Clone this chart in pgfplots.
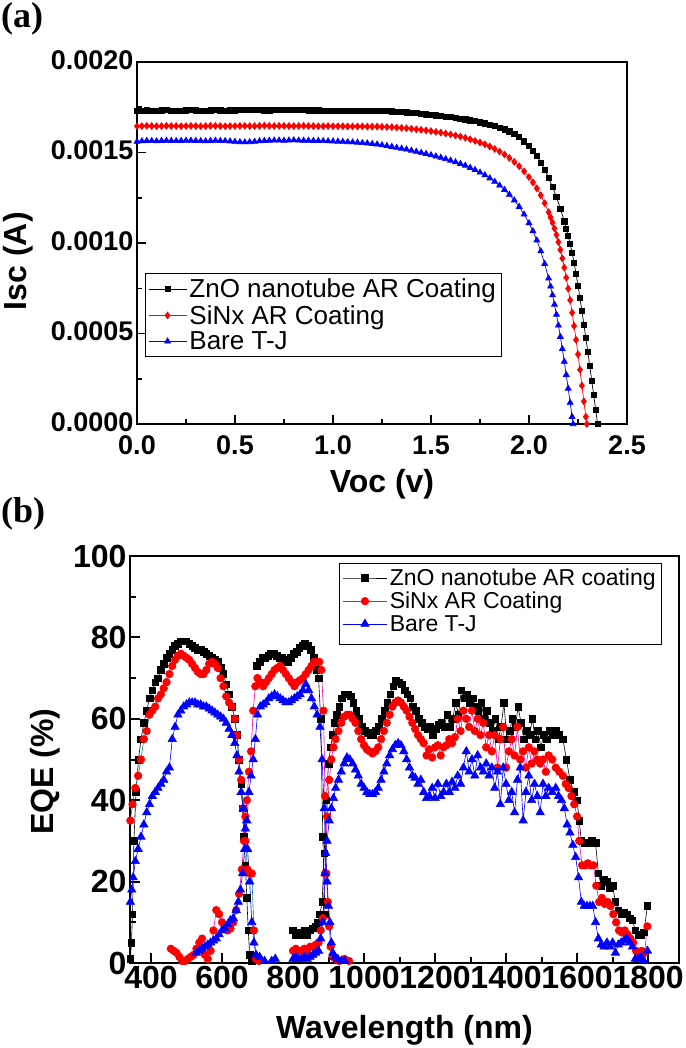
\documentclass[border=0pt]{standalone}
\usepackage{fontspec}
\setmainfont{Liberation Sans}
\newfontfamily\serifbf{Liberation Serif}
\usepackage{pgfplots}
\pgfplotsset{compat=1.18}
\definecolor{myred}{RGB}{255,0,0}
\definecolor{myblue}{RGB}{0,0,255}
\definecolor{myteal}{RGB}{0,128,128}
\definecolor{mymag}{RGB}{235,0,170}
\begin{document}
\begin{tikzpicture}
\useasboundingbox (0pt,0pt) rectangle (685pt,-1048pt);
\node[anchor=north west,inner sep=0pt,font=\serifbf\bfseries\fontsize{36}{38}\selectfont] at (1pt,-2pt) {(a)};
\node[anchor=north west,inner sep=0pt,font=\serifbf\bfseries\fontsize{36}{38}\selectfont] at (1pt,-497pt) {(b)};
% ---------------- panel (a)
\begin{axis}[
 at={(137pt,-424pt)}, anchor=south west, scale only axis,
 width=490pt, height=362pt,
 xmin=0, xmax=2.5, ymin=0, ymax=0.002,
 xtick={0,0.5,1,1.5,2,2.5}, xticklabels={0.0,0.5,1.0,1.5,2.0,2.5},
 ytick={0,0.0005,0.001,0.0015,0.002}, yticklabels={0.0000,0.0005,0.0010,0.0015,0.0020},
 scaled y ticks=false, scaled x ticks=false,
 minor x tick num=1, minor y tick num=1,
 tick align=inside, xtick pos=left, ytick pos=left,
 major tick length=9pt, minor tick length=5pt,
 axis line style={line width=1.6pt}, every tick/.style={line width=1.5pt,black},
 ticklabel style={font=\bfseries\fontsize{27}{29}\selectfont},
 xticklabel style={yshift=-8pt},
 yticklabel style={yshift=2pt},
 xlabel={Voc (v)}, ylabel={Isc (A)},
 label style={font=\bfseries\fontsize{32}{34}\selectfont},
 xlabel style={at={(axis description cs:0.5,-0.165)},anchor=center},
 ylabel style={at={(axis description cs:-0.243,0.45)},anchor=center,rotate=0},
 legend cell align=left,
 legend image code/.code={\draw[mark repeat=2,mark phase=2,#1] plot coordinates {(0pt,0pt) (19pt,0pt) (38pt,0pt)};},
 legend style={at={(0.016,0.417)},anchor=north west,draw=black,line width=0.8pt,
   font=\fontsize{26}{28}\selectfont, nodes={inner sep=2.5pt}, row sep=1pt, inner xsep=3pt, inner ysep=3pt},
]
\addplot[black,line width=0.7pt,mark=square*,mark size=2.6pt,mark options={solid}] coordinates {
(0.000,0.001730) (0.025,0.001732) (0.050,0.001733) (0.075,0.001731) (0.100,0.001732) (0.125,0.001733) (0.150,0.001734) (0.175,0.001732) (0.200,0.001732) (0.225,0.001731) (0.250,0.001733) (0.275,0.001734) (0.300,0.001733) (0.325,0.001732) (0.350,0.001732) (0.375,0.001733) (0.400,0.001734) (0.425,0.001733) (0.450,0.001732) (0.475,0.001733) (0.500,0.001733) (0.525,0.001734) (0.550,0.001735) (0.575,0.001736) (0.600,0.001737) (0.625,0.001735) (0.650,0.001733) (0.675,0.001733) (0.700,0.001734) (0.725,0.001734) (0.750,0.001735) (0.775,0.001736) (0.800,0.001737) (0.825,0.001735) (0.850,0.001734) (0.875,0.001733) (0.900,0.001733) (0.925,0.001733) (0.950,0.001732) (0.975,0.001732) (1.000,0.001732) (1.025,0.001731) (1.050,0.001731) (1.075,0.001731) (1.100,0.001731) (1.125,0.001731) (1.150,0.001731) (1.175,0.001730) (1.200,0.001730) (1.225,0.001729)
(1.25,0.001729) (1.275,0.001728) (1.30,0.001727) (1.325,0.001726) (1.35,0.001724) (1.375,0.001722) (1.40,0.001719) (1.425,0.001717) (1.45,0.001714) (1.475,0.001711) (1.50,0.001708) (1.525,0.001705) (1.55,0.001702) (1.575,0.001699) (1.60,0.001695) (1.625,0.001691) (1.65,0.001687) (1.675,0.001683) (1.70,0.001678) (1.725,0.001673) (1.75,0.001667) (1.775,0.001661) (1.80,0.001654) (1.825,0.001646) (1.85,0.001638) (1.875,0.001628) (1.90,0.001617) (1.925,0.001603) (1.95,0.001585) (1.975,0.001562) (2.00,0.001535) (2.02,0.001510) (2.04,0.001480) (2.06,0.001445) (2.08,0.001405) (2.10,0.001360) (2.12,0.001310) (2.14,0.001255) (2.16,0.001190) (2.18,0.001120) (2.19,0.001080) (2.20,0.001040) (2.21,0.000995) (2.22,0.000945) (2.23,0.000890) (2.24,0.000830) (2.25,0.000765) (2.26,0.000695) (2.27,0.000625) (2.28,0.000550) (2.29,0.000475) (2.30,0.000400) (2.31,0.000320) (2.32,0.000240) (2.33,0.000160) (2.34,0.000080) (2.35,0.000000)};
\addlegendentry{ZnO nanotube AR Coating}
\addplot[myred,line width=0.7pt,mark=diamond*,mark size=3.4pt,mark options={solid}] coordinates {
(0.000,0.001645) (0.025,0.001646) (0.050,0.001647) (0.075,0.001646) (0.100,0.001645) (0.125,0.001646) (0.150,0.001647) (0.175,0.001646) (0.200,0.001646) (0.225,0.001645) (0.250,0.001646) (0.275,0.001647) (0.300,0.001646) (0.325,0.001645) (0.350,0.001646) (0.375,0.001647) (0.400,0.001647) (0.425,0.001646) (0.450,0.001645) (0.475,0.001646) (0.500,0.001646) (0.525,0.001647) (0.550,0.001647) (0.575,0.001646) (0.600,0.001646) (0.625,0.001647) (0.650,0.001648) (0.675,0.001647) (0.700,0.001646) (0.725,0.001647) (0.750,0.001647) (0.775,0.001646) (0.800,0.001646) (0.825,0.001646) (0.850,0.001647) (0.875,0.001646) (0.900,0.001646) (0.925,0.001645) (0.950,0.001645) (0.975,0.001646) (1.000,0.001645) (1.025,0.001645) (1.050,0.001645) (1.075,0.001644) (1.100,0.001644) (1.125,0.001644) (1.150,0.001644) (1.175,0.001643) (1.200,0.001643) (1.225,0.001643)
(1.25,0.001642) (1.275,0.001641) (1.30,0.001640) (1.325,0.001638) (1.35,0.001636) (1.375,0.001634) (1.40,0.001631) (1.425,0.001628) (1.45,0.001625) (1.475,0.001622) (1.50,0.001618) (1.525,0.001614) (1.55,0.001610) (1.575,0.001605) (1.60,0.001600) (1.625,0.001594) (1.65,0.001588) (1.675,0.001581) (1.70,0.001573) (1.725,0.001564) (1.75,0.001555) (1.775,0.001545) (1.80,0.001533) (1.825,0.001520) (1.85,0.001505) (1.875,0.001489) (1.90,0.001470) (1.925,0.001448) (1.95,0.001424) (1.975,0.001396) (2.00,0.001364) (2.02,0.001335) (2.04,0.001302) (2.06,0.001264) (2.08,0.001220) (2.10,0.001170) (2.11,0.001142) (2.12,0.001112) (2.13,0.001080) (2.14,0.001045) (2.15,0.001005) (2.16,0.000962) (2.17,0.000915) (2.18,0.000864) (2.19,0.000808) (2.20,0.000748) (2.21,0.000684) (2.22,0.000615) (2.23,0.000542) (2.24,0.000465) (2.25,0.000385) (2.26,0.000300) (2.27,0.000212) (2.28,0.000125) (2.29,0.000040) (2.295,0.000000)};
\addlegendentry{SiNx AR Coating}
\addplot[myblue,line width=0.7pt,mark=triangle*,mark size=3.4pt,mark options={solid}] coordinates {
(0.000,0.001560) (0.025,0.001563) (0.050,0.001565) (0.075,0.001564) (0.100,0.001563) (0.125,0.001565) (0.150,0.001566) (0.175,0.001565) (0.200,0.001564) (0.225,0.001565) (0.250,0.001566) (0.275,0.001566) (0.300,0.001565) (0.325,0.001564) (0.350,0.001563) (0.375,0.001565) (0.400,0.001566) (0.425,0.001565) (0.450,0.001564) (0.475,0.001562) (0.500,0.001560) (0.525,0.001558) (0.550,0.001557) (0.575,0.001558) (0.600,0.001560) (0.625,0.001563) (0.650,0.001565) (0.675,0.001566) (0.700,0.001567) (0.725,0.001567) (0.750,0.001566) (0.775,0.001567) (0.800,0.001568) (0.825,0.001567) (0.850,0.001566) (0.875,0.001566) (0.900,0.001565) (0.925,0.001565) (0.950,0.001564) (0.975,0.001563) (1.000,0.001562) (1.025,0.001561) (1.050,0.001560) (1.075,0.001558) (1.100,0.001557) (1.125,0.001555) (1.150,0.001553) (1.175,0.001551) (1.200,0.001548) (1.225,0.001545)
(1.25,0.001541) (1.275,0.001537) (1.30,0.001532) (1.325,0.001527) (1.35,0.001522) (1.375,0.001517) (1.40,0.001511) (1.425,0.001505) (1.45,0.001499) (1.475,0.001493) (1.50,0.001486) (1.525,0.001479) (1.55,0.001472) (1.575,0.001464) (1.60,0.001456) (1.625,0.001447) (1.65,0.001438) (1.675,0.001428) (1.70,0.001416) (1.725,0.001404) (1.75,0.001390) (1.775,0.001375) (1.80,0.001358) (1.825,0.001339) (1.85,0.001318) (1.875,0.001294) (1.90,0.001267) (1.925,0.001236) (1.95,0.001200) (1.975,0.001158) (2.00,0.001110) (2.02,0.001066) (2.04,0.001015) (2.06,0.000955) (2.08,0.000885) (2.10,0.000805) (2.11,0.000760) (2.12,0.000712) (2.13,0.000660) (2.14,0.000605) (2.15,0.000545) (2.16,0.000482) (2.17,0.000415) (2.18,0.000345) (2.19,0.000272) (2.20,0.000196) (2.21,0.000118) (2.22,0.000040) (2.225,0.000000)};
\addlegendentry{Bare T-J}
\end{axis}
% ---------------- panel (b)
\begin{axis}[
 at={(130pt,-963pt)}, anchor=south west, scale only axis,
 width=549pt, height=407pt,
 xmin=341, xmax=1887, ymin=0, ymax=100,
 xtick={400,600,800,1000,1200,1400,1600,1800},
 xticklabels={400,600,800,1000,1200,1400,1600,1800},
 ytick={0,20,40,60,80,100}, yticklabels={0,20,40,60,80,100},
 minor x tick num=1, minor y tick num=1,
 tick align=inside, xtick pos=left, ytick pos=left,
 major tick length=10pt, minor tick length=6pt,
 axis line style={line width=2.4pt}, every tick/.style={line width=2pt,black},
 ticklabel style={font=\bfseries\fontsize{32}{34}\selectfont},
 xticklabel style={inner xsep=0pt},
 xlabel={Wavelength (nm)}, ylabel={EQE (\%)},
 label style={font=\bfseries\fontsize{32}{34}\selectfont},
 xlabel style={at={(axis description cs:0.5,-0.165)},anchor=center},
 ylabel style={at={(axis description cs:-0.155,0.47)},anchor=center,rotate=0},
 legend cell align=left,
 legend image code/.code={\draw[mark repeat=2,mark phase=2,#1] plot coordinates {(0pt,0pt) (22pt,0pt) (44pt,0pt)};},
 legend style={at={(0.381,0.983)},anchor=north west,draw=black,line width=1pt,
   font=\fontsize{23}{25}\selectfont, nodes={inner sep=2.5pt}, row sep=0pt, inner xsep=3pt, inner ysep=3pt},
 zno/.style={black,line width=0.6pt,mark=square*,mark size=3.3pt,mark options={solid,black}},
 sin/.style={myteal,line width=0.6pt,mark=*,mark size=3.8pt,mark options={solid,fill=myred,draw=myred}},
 sinm/.style={mymag,line width=0.6pt,mark=*,mark size=3.8pt,mark options={solid,fill=myred,draw=myred}},
 bar/.style={myblue,line width=0.6pt,mark=triangle*,mark size=4.8pt,mark options={solid,fill=myblue,draw=myblue}},
]
% ZnO top cell
\addplot[zno] table {
342 1
345 5
348 12
352 30
358 42
365 50
372 55
380 59
388 62
396 65
404 67
412 69
420 70
428 72
436 73.5
444 75
452 76
460 77
468 78
476 78.5
484 79
492 79
500 79
508 78.5
516 78
524 77.5
532 77
540 77
548 76.5
556 76
564 75.5
572 75
580 74.5
588 74
596 72.5
604 71
612 68.5
620 66
628 63
636 60
642 56
648 50
654 44
658 38
662 31
666 24
670 16
674 8
678 2
684 0.5
};
\addlegendentry{ZnO nanotube AR coating}
\addplot[sin] table {
342 35
348 39
356 43
364 46
372 50
380 55
388 57
396 61
404 62
412 63
420 65
428 66
436 67.5
444 69
452 71
460 73
468 74.5
476 75.5
484 76
492 75.5
500 75
508 74.5
516 73.5
524 72.5
532 71.5
540 71
548 71
556 72
564 73.5
572 74
580 73.5
588 72.5
596 70
604 68
612 65.5
620 64
628 63
636 60
642 56
648 50
654 45
660 38
666 30
672 23
678 22
684 22
690 8
696 1
704 0.5
};
\addlegendentry{SiNx AR Coating}
\addplot[bar] table {
342 15
346 18
350 21
356 25
364 28
372 31
380 34
388 37
396 39
404 41
412 42
420 43
428 44
436 45
444 47
452 48
460 55
468 58
476 61
484 62
492 63
500 63.5
508 64
516 64
524 64
532 63.5
540 63.5
548 63
556 63
564 62.5
572 62
580 61.5
588 61
596 60.5
604 60
612 59
620 57.5
628 56
636 54
642 51
648 47
654 42
660 38
666 33
672 28
678 20
684 10
690 5
696 2
706 1.5
720 0.5
740 0.5
750 1
};
\addlegendentry{Bare T-J}
\addlegendimage{empty legend}\addlegendentry{}
% ZnO middle and bottom
\addplot[zno,forget plot] table {
698 73
706 74
714 75
722 75
730 75.5
738 76
746 76
754 75.5
762 75
770 75
778 74.5
786 74
794 75
802 76
810 76.5
818 77.5
826 78
834 78.5
842 78
850 77
858 75
866 72
872 70
878 60
884 31
890 12
};
\addplot[zno,forget plot] table {
800 8
808 7
816 7.5
824 7
832 8
840 7
848 8
856 8.5
864 9
870 10
876 12
882 15
888 27
894 40
900 49
906 53
912 56
918 59
924 61
930 63
938 65
946 66
954 66
962 65.5
970 64
978 62
986 60
994 58
1002 57
1010 56.5
1018 56
1026 56
1034 57
1042 58
1050 60
1058 62
1066 64
1074 66
1082 68
1090 69.5
1098 69
1106 68.5
1114 67
1122 66
1130 65
1138 63
1146 62
1154 60
1162 59
1170 58
1178 57.5
1186 58
1194 56
1202 57.5
1210 58.5
1218 59
1226 58
1234 61
1242 58
1250 60
1258 64
1266 61
1274 67
1282 65
1290 66
1298 64
1306 65
1314 63
1322 62
1330 64
1338 60
1346 62
1354 59
1362 57
1370 60
1378 55
1386 58
1394 64
1402 55
1410 57
1418 60
1426 58
1434 63
1442 59
1450 55
1458 57
1466 56
1474 60
1482 55
1490 57
1498 53
1506 56
1514 55
1522 57
1530 56
1540 57
1550 56
1560 55
1570 50
1580 45
1590 42
1600 40
1606 35
1612 30
1622 29.5
1632 29.5
1642 30
1652 29.5
1660 22
1668 19
1676 20.5
1684 20
1692 18.5
1700 19
1708 15
1716 13
1724 12
1732 12.5
1740 12
1748 11
1756 10.5
1764 8
1772 7
1780 7
1788 7.5
1798 14
};
% SiNx middle and bottom
\addplot[sinm,forget plot] table {
456 3.5
464 3
472 2.5
480 1.5
488 0.5
496 0.5
504 1
512 1.5
520 2
528 3.5
536 5
544 6
552 2
560 1
568 3
576 8
584 13
592 12
600 10
608 9
616 8
624 8.5
632 10
640 13
648 17
656 23
662 30
666 36
670 40
676 47
682 52
688 62
694 68
700 70
708 69
716 68
724 69
732 70
740 71
748 72
756 72.5
764 73
772 72
780 71
788 70
796 69
804 68
812 69
820 69.5
828 70
836 71
844 72
852 73
860 74
868 74
874 74
880 72
886 62
890 41
894 22
898 15
902 9
906 4
912 1.5
920 1
930 0.5
945 1
958 0.5
};
\addplot[sinm,forget plot] table {
800 3
808 3.5
816 3
824 3
832 3.5
840 3
848 4
856 4
864 4.5
872 5
878 8
884 11
890 22
896 36
902 45
908 50
914 53
920 55
928 57
936 59
944 60.5
952 61
960 61
968 60
976 59
984 57
992 55
1000 53.5
1008 52.5
1016 52
1024 51.5
1032 52
1040 53
1048 55
1056 57
1064 59
1072 61
1080 63
1088 64
1096 64.5
1104 64
1112 63
1120 62
1128 60.5
1136 59
1144 57.5
1152 56
1160 55
1168 54
1176 51
1184 52.5
1192 50.5
1200 53
1208 53.5
1216 51
1224 53
1232 53.5
1240 55
1248 54
1256 55.5
1264 60
1272 57
1280 62
1288 60
1296 58
1304 62
1312 57
1320 60
1328 56
1336 59
1344 53
1352 56
1360 52
1368 56
1376 48
1384 55
1392 58
1400 48
1408 52
1416 55
1424 51
1432 58
1440 50
1448 52
1456 48
1464 53
1472 49
1480 52
1488 50
1496 49
1504 50
1512 47
1520 51
1530 50
1540 48
1550 47
1560 46
1568 44
1576 43
1584 41
1592 39
1600 36
1606 30
1614 24
1622 24
1630 24.5
1638 24
1646 24
1654 19
1662 15
1670 16
1678 14.5
1686 15
1694 14
1702 12
1710 10
1718 8
1726 7.5
1734 8
1742 7
1750 6
1758 5
1766 3
1774 2
1782 3
1790 2.5
1798 9
};
% Bare middle and bottom
\addplot[bar,forget plot] table {
528 2.5
536 3
544 3.5
552 4
560 4.5
568 5
576 5.5
584 6
592 7
600 8
608 8.5
616 9.5
624 10.5
632 11
640 13
646 15
652 18
658 22
664 28
670 35
676 42
682 46
688 50
694 55
700 61
708 63
716 63.5
724 64
732 65
740 65.5
748 66
756 65.5
764 65
772 64.5
780 64
788 64
796 64.5
804 65
812 65.5
820 66
828 67
836 68.5
844 67
852 65
860 63
868 61
876 58
882 50
888 38
892 27
896 20
900 14
904 10
908 5
912 2.5
918 1.5
926 1
936 0.5
946 0.5
};
\addplot[bar,forget plot] table {
800 1
808 1.5
816 1
824 1
832 1.5
840 1
848 1.5
856 2
864 2.5
872 3
878 6
884 10
890 22
896 30
902 35
908 38
914 40.5
920 43
928 45
936 47
944 49
952 50.5
960 50
968 49
976 47.5
984 46
992 44
1000 43
1008 42
1016 41.5
1024 41.5
1032 42
1040 43
1048 45
1056 47
1064 49
1072 51
1080 52.5
1088 53.5
1096 54
1104 53.5
1112 52
1120 50
1128 48
1136 46
1144 45.5
1152 44
1160 45
1168 42
1176 40.5
1184 41
1192 43
1200 40.5
1208 44
1216 41
1224 42
1232 44
1240 42
1248 44.5
1256 43
1264 46
1272 44
1280 48
1288 52
1296 47
1304 50
1312 46
1320 51
1328 48
1336 47
1344 49
1352 46
1360 48
1368 43
1376 47
1384 39
1392 48
1400 44
1408 40
1416 42
1424 37
1432 45
1440 48
1448 35
1456 42
1464 46
1472 40
1480 44
1488 41
1496 37
1504 44
1512 41
1520 43
1530 42
1540 43
1548 41
1556 40
1564 38
1572 34
1580 32
1588 29
1596 26
1604 21
1612 15
1620 14
1628 14
1636 14
1644 14
1652 10
1660 6
1668 4.5
1676 4
1684 5
1692 4
1700 5
1708 2.5
1716 4.5
1724 5
1732 5.5
1740 6
1748 5
1756 4
1764 1
1772 1
1780 1.5
1788 0.5
1798 3
};
\end{axis}
\end{tikzpicture}
\end{document}
